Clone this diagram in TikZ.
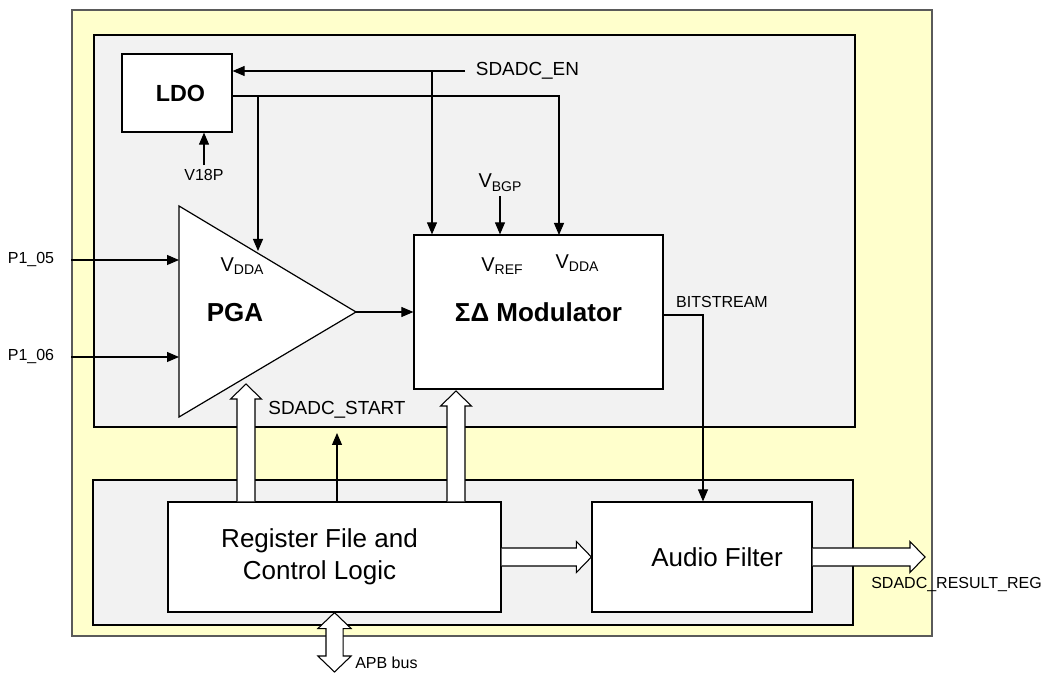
\documentclass[tikz,border=0pt]{standalone}
\usepackage{fontspec}
\setmainfont{Liberation Sans}
\usepackage{tikz}
\usetikzlibrary{arrows.meta,calc,positioning}

\definecolor{chipyellow}{HTML}{FFFFCC}
\definecolor{panelgray}{HTML}{F2F2F2}
\definecolor{chipedge}{HTML}{5A5A5A}

\newcommand{\vsub}[1]{V\raisebox{-0.35ex}{\fontsize{10.5}{12}\selectfont #1}}

% block arrow from #1 to #2
\newcommand{\fatarrow}[2]{%
  \draw[fat] let \p1=(#1), \p2=(#2), \n1={veclen(\x2-\x1,\y2-\y1)}, \n2={atan2(\y2-\y1,\x2-\x1)} in
    [shift={(\p1)}, rotate=\n2]
    (0pt,-6.75pt) -- ({\n1*1pt-11.25pt},-6.75pt) -- ({\n1*1pt-11.25pt},-11.6pt) -- ({\n1*1pt},0pt)
    -- ({\n1*1pt-11.25pt},11.6pt) -- ({\n1*1pt-11.25pt},6.75pt) -- (0pt,6.75pt);}

% block arrow with two heads
\newcommand{\fatdarrow}[2]{%
  \draw[fat] let \p1=(#1), \p2=(#2), \n1={veclen(\x2-\x1,\y2-\y1)}, \n2={atan2(\y2-\y1,\x2-\x1)} in
    [shift={(\p1)}, rotate=\n2]
    (0pt,0pt) -- (12pt,-12.5pt) -- (12pt,-6.4pt) -- ({\n1*1pt-12pt},-6.4pt) -- ({\n1*1pt-12pt},-12.5pt)
    -- ({\n1*1pt},0pt) -- ({\n1*1pt-12pt},12.5pt) -- ({\n1*1pt-12pt},6.4pt) -- (12pt,6.4pt) -- (12pt,12.5pt) -- cycle;}

\begin{document}
\begin{tikzpicture}[
    x=0.75pt, y=-0.75pt,
    panel/.style={draw=black, fill=panelgray, line width=0.9pt, inner sep=0pt},
    blk/.style={draw=black, fill=white, line width=0.9pt, inner sep=0pt},
    lbl/.style={inner sep=1pt},
    bigtxt/.style={font=\fontsize{19.5}{24}\selectfont},
    bigbold/.style={font=\bfseries\fontsize{19.5}{24}\selectfont},
    sigtxt/.style={lbl, font=\fontsize{14.2}{17}\selectfont},
    vtxt/.style={lbl, font=\fontsize{15}{18}\selectfont},
    smalltxt/.style={lbl, font=\fontsize{12}{14}\selectfont},
    arr/.style={-{Triangle[length=9pt,width=7.5pt]}, line width=0.8pt},
    fat/.style={draw=black, fill=white, line width=0.8pt},
  ]
    \useasboundingbox (0,0) rectangle (1043,673);

    % chip and panels
    \node[draw=chipedge, fill=chipyellow, line width=1.5pt, minimum width=645pt, minimum height=469.5pt, inner sep=0pt] (chip) at (502,323) {};
    \node[panel, minimum width=570.75pt, minimum height=294pt] (analog) at (474.5,231) {};
    \node[panel, minimum width=570pt, minimum height=108.75pt] (digital) at (473,552.5) {};

    % blocks
    \node[blk, bigbold, font=\bfseries\fontsize{17.5}{21}\selectfont, minimum width=82.5pt, minimum height=58.5pt] (ldo) at (177,93) {\hspace*{5.25pt}LDO};
    \node[blk, bigbold, minimum width=186.75pt, minimum height=115.5pt] (mod) at (538.5,312) {ΣΔ Modulator};
    \node[blk, bigtxt, align=center, minimum width=249.75pt, minimum height=82.5pt] (reg) at (334.5,557) {Register File and\hspace*{22.5pt}\\Control Logic\hspace*{22.5pt}};
    \node[blk, bigtxt, minimum width=165pt, minimum height=82.5pt] (audio) at (702,557) {\hspace*{22.5pt}Audio Filter};

    % PGA triangle
    \coordinate (pgatl) at (179,206);
    \coordinate (pgabl) at (179,417);
    \coordinate (pgatip) at (356,312);
    \draw[blk] (pgatl) -- (pgatip) -- (pgabl) -- cycle;
    \node[bigbold] (pga) at (235,313) {PGA};

    % labels
    \node[sigtxt, anchor=west, inner xsep=8pt] (en) at (465,71) {SDADC\_EN};
    \node[smalltxt, inner sep=3pt] (v18) at (204,175) {V18P};
    \node[vtxt, inner sep=3pt] (vbgp) at (500,183) {\vsub{BGP}};
    \node[vtxt] (pgavdda) at (242,266) {\vsub{DDA}};
    \node[vtxt] (modvref) at (502,266) {\vsub{REF}};
    \node[vtxt] (modvdda) at (577,263) {\vsub{DDA}};
    \node[smalltxt] (p105) at (31,260) {P1\_05};
    \node[smalltxt] (p106) at (31,357) {P1\_06};
    \node[smalltxt] (bits) at (722,302) {BITSTREAM};
    \node[sigtxt] (start) at (337,410) {SDADC\_START};
    \node[smalltxt, anchor=east, inner sep=0pt] (result) at (1042,585) {SDADC\_RESULT\_REG};
    \node[smalltxt, anchor=west, inner sep=0pt] (apb) at (355,663) {APB bus};

    % ports and turning points
    \coordinate (enbr) at (432,71);
    \coordinate (ldoout) at (232,96);
    \coordinate (ldotap) at (258,96);
    \coordinate (pgavdd) at (258,251);
    \coordinate (modvdd) at (559,235);
    \coordinate (bsturn) at (703,315);
    \coordinate (startin) at (337,433);
    \coordinate (pgaup) at (246,384);
    \coordinate (modup) at (456,391);
    \coordinate (resout) at (925,557);
    \coordinate (apbend) at (334.5,672);

    % thin connectors
    \draw[arr] (en.west) -- (en.west -| ldo.east);
    \draw[arr] (enbr) -- (enbr |- mod.north);
    \draw[arr] (ldoout) -| (modvdd);
    \draw[arr] (ldotap) -- (pgavdd);
    \draw[arr] (v18.north) -- (v18.north |- ldo.south);
    \draw[arr] (vbgp.south) -- (vbgp.south |- mod.north);
    \draw[arr] (chip.west |- p105) -- (p105 -| pgabl);
    \draw[arr] (chip.west |- p106) -- (p106 -| pgabl);
    \draw[arr] (pgatip) -- (pgatip -| mod.west);
    \draw[arr] (mod.east |- bsturn) -- (bsturn) -- (bsturn |- audio.north);
    \draw[arr] (startin |- reg.north) -- (startin);

    % block arrows
    \fatarrow{pgaup |- reg.north}{pgaup}
    \fatarrow{modup |- reg.north}{modup}
    \fatarrow{reg.east}{audio.west}
    \fatarrow{audio.east}{resout}
    \fatdarrow{reg.south}{apbend}
  \end{tikzpicture}
\end{document}
